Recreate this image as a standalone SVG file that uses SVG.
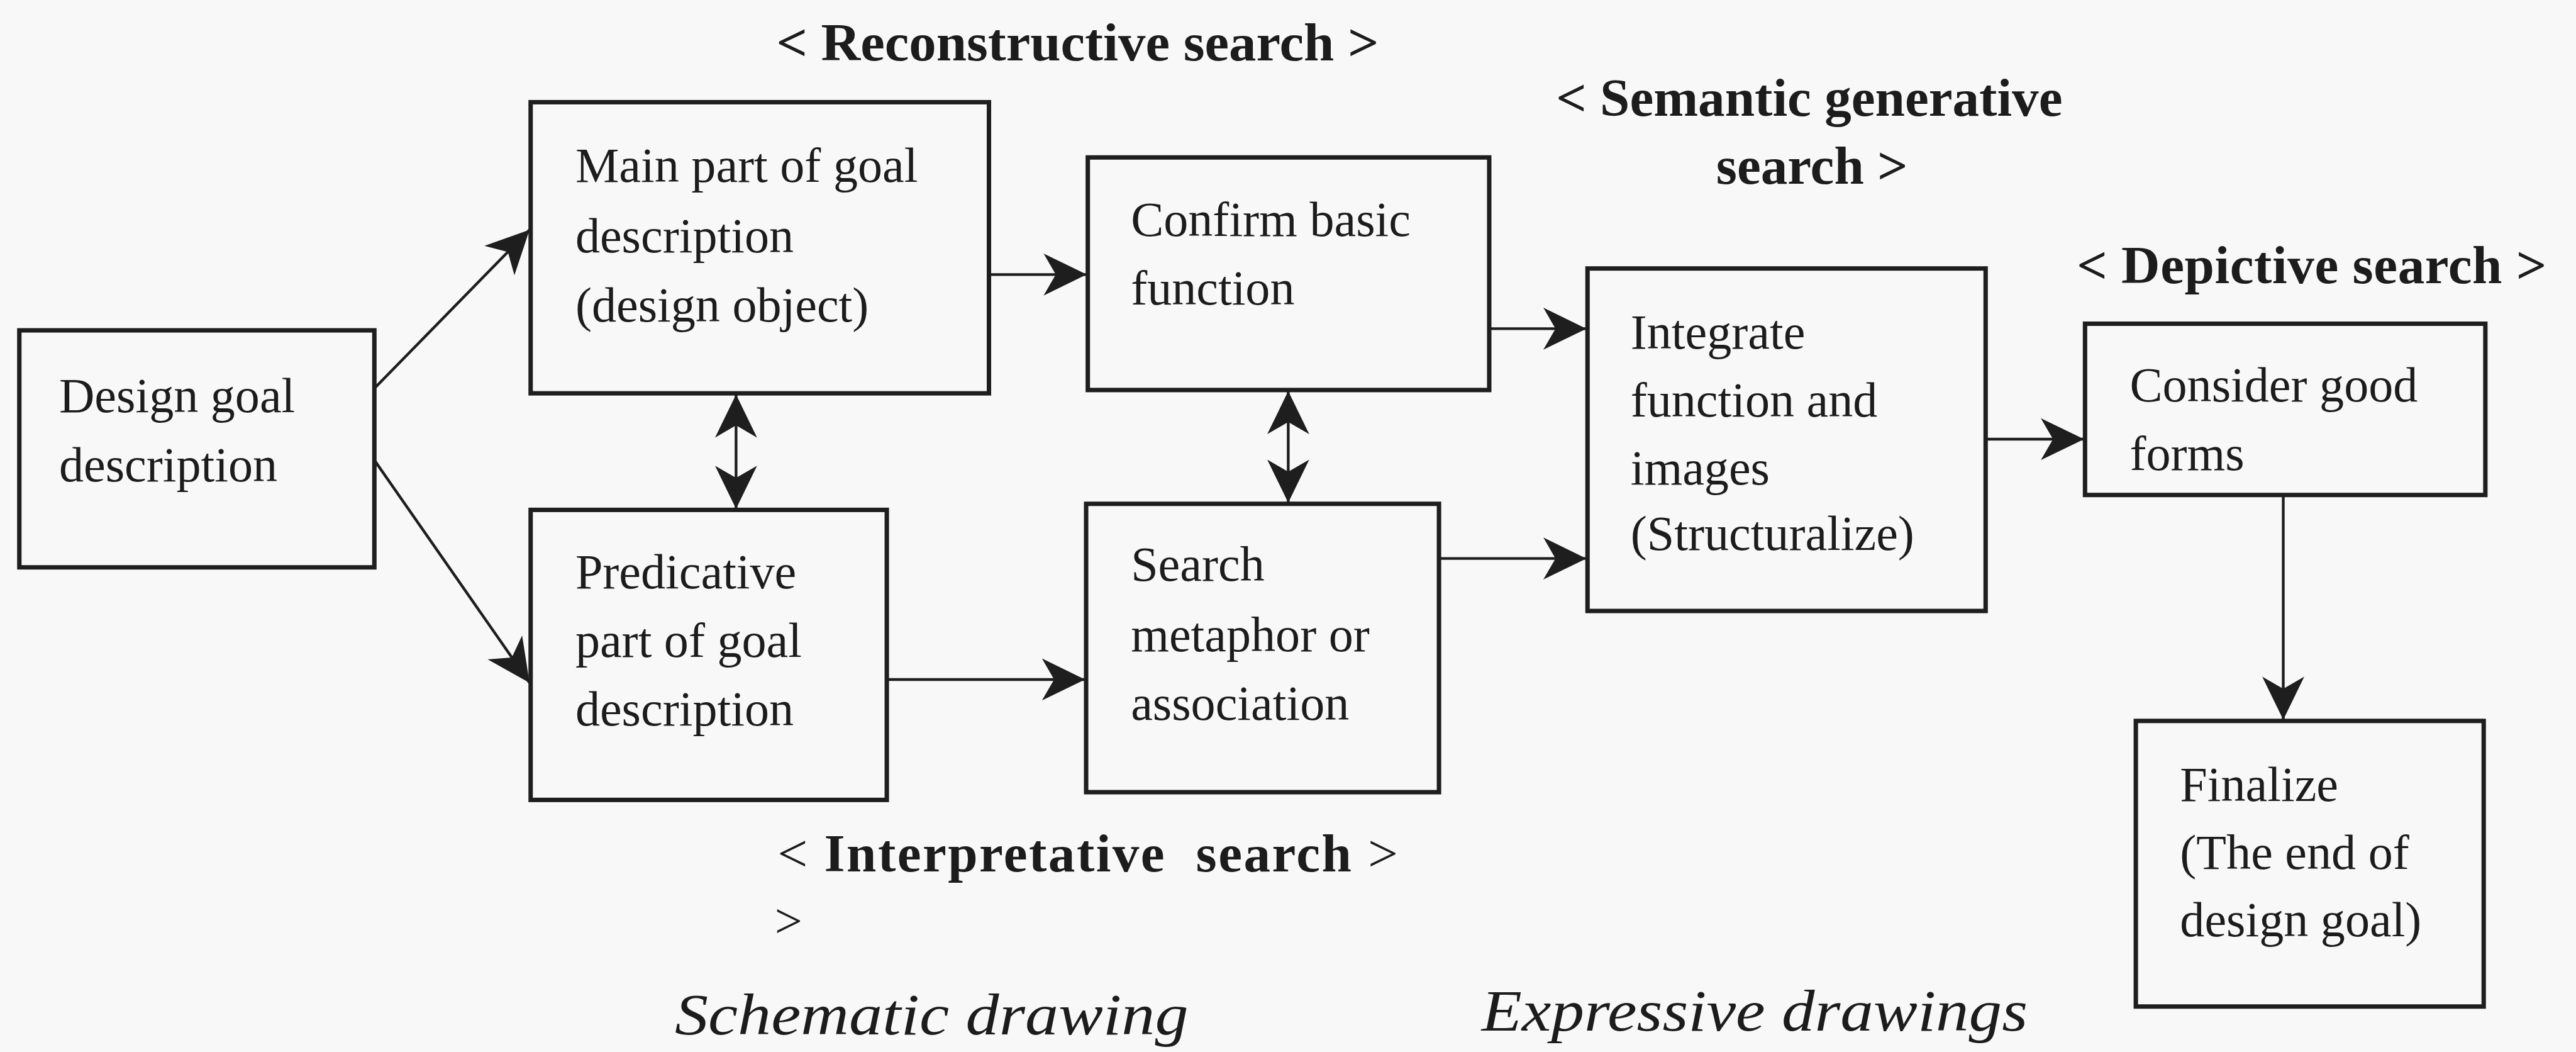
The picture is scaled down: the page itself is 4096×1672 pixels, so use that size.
<svg xmlns="http://www.w3.org/2000/svg" width="4096" height="1672" viewBox="0 0 4096 1672">
<defs>
<style>
.box{fill:none;stroke:#1e1e1e;stroke-width:8}
.t{font-family:"Liberation Serif","Times New Roman",serif;font-size:89px;fill:#1c1c1c}
.h{font-family:"Liberation Serif","Times New Roman",serif;font-size:97px;font-weight:bold;fill:#1c1c1c}
.r{font-weight:normal}
.i{font-family:"Liberation Serif","Times New Roman",serif;font-size:106px;font-style:italic;fill:#1c1c1c}
.c{fill:none;stroke:#1e1e1e;stroke-width:5}
</style>
<marker id="ah" viewBox="-80 -42 84 84" refX="0" refY="0" markerWidth="84" markerHeight="84" markerUnits="userSpaceOnUse" orient="auto-start-reverse">
<path d="M0,0 L-78,-38 L-56,0 L-78,38 Z" fill="#1e1e1e"/>
</marker>
</defs>
<rect x="0" y="0" width="4096" height="1672" fill="#f8f8f8"/>
<g transform="scale(0.878)">
<g id="connectors">
<line class="c" x1="678" y1="703" x2="959" y2="416" marker-end="url(#ah)"/>
<line class="c" x1="678" y1="833" x2="959" y2="1236" marker-end="url(#ah)"/>
<line class="c" x1="1791" y1="497" x2="1968" y2="497" marker-end="url(#ah)"/>
<line class="c" x1="1333" y1="714" x2="1333" y2="921" marker-start="url(#ah)" marker-end="url(#ah)"/>
<line class="c" x1="1606" y1="1230" x2="1965" y2="1230" marker-end="url(#ah)"/>
<line class="c" x1="2333" y1="708" x2="2333" y2="910" marker-start="url(#ah)" marker-end="url(#ah)"/>
<line class="c" x1="2697" y1="595" x2="2873" y2="595" marker-end="url(#ah)"/>
<line class="c" x1="2606" y1="1011" x2="2873" y2="1011" marker-end="url(#ah)"/>
<line class="c" x1="3596" y1="795" x2="3774" y2="795" marker-end="url(#ah)"/>
<line class="c" x1="4135" y1="896" x2="4135" y2="1303" marker-end="url(#ah)"/>
</g>
<g id="n-design">
<rect class="box" x="35" y="598" width="643" height="429"/>
<text class="t"><tspan x="107" y="746">Design goal</tspan><tspan x="107" y="871">description</tspan></text>
</g>
<g id="n-main">
<rect class="box" x="961" y="185" width="830" height="527"/>
<text class="t"><tspan x="1042" y="329">Main part of goal</tspan><tspan x="1042" y="457">description</tspan><tspan x="1042" y="582">(design object)</tspan></text>
</g>
<g id="n-pred">
<rect class="box" x="961" y="923" width="645" height="525"/>
<text class="t"><tspan x="1042" y="1065">Predicative</tspan><tspan x="1042" y="1189">part of goal</tspan><tspan x="1042" y="1313">description</tspan></text>
</g>
<g id="n-confirm">
<rect class="box" x="1970" y="285" width="727" height="421"/>
<text class="t"><tspan x="2048" y="427">Confirm basic</tspan><tspan x="2048" y="551">function</tspan></text>
</g>
<g id="n-search">
<rect class="box" x="1967" y="912" width="639" height="522"/>
<text class="t"><tspan x="2048" y="1051">Search</tspan><tspan x="2048" y="1179">metaphor or</tspan><tspan x="2048" y="1303">association</tspan></text>
</g>
<g id="n-integrate">
<rect class="box" x="2875" y="486" width="721" height="620"/>
<text class="t"><tspan x="2953" y="631">Integrate</tspan><tspan x="2953" y="754">function and</tspan><tspan x="2953" y="877">images</tspan><tspan x="2953" y="995">(Structuralize)</tspan></text>
</g>
<g id="n-consider">
<rect class="box" x="3776" y="586" width="725" height="310"/>
<text class="t"><tspan x="3857" y="727">Consider good</tspan><tspan x="3857" y="851">forms</tspan></text>
</g>
<g id="n-finalize">
<rect class="box" x="3868" y="1305" width="630" height="517"/>
<text class="t"><tspan x="3948" y="1450">Finalize</tspan><tspan x="3948" y="1573">(The end of</tspan><tspan x="3948" y="1695">design goal)</tspan></text>
</g>
<g id="labels">
<text class="h" x="1406" y="109" textLength="1091" lengthAdjust="spacingAndGlyphs">&lt; Reconstructive search &gt;</text>
<text class="h" x="2818" y="210">&lt; Semantic generative</text>
<text class="h" x="3108" y="333">search &gt;</text>
<text class="h" x="3761" y="512" textLength="851" lengthAdjust="spacing">&lt; Depictive search &gt;</text>
<text class="h" x="1408" y="1578" textLength="1124" lengthAdjust="spacing" xml:space="preserve"><tspan class="r">&lt;</tspan> Interpretative  search <tspan class="r">&gt;</tspan></text>
<text class="t" x="1403" y="1697">&gt;</text>
<text class="i" x="1222" y="1872" textLength="930" lengthAdjust="spacingAndGlyphs">Schematic drawing</text>
<text class="i" x="2683" y="1866" textLength="989" lengthAdjust="spacingAndGlyphs">Expressive drawings</text>
</g>
</g>
</svg>
